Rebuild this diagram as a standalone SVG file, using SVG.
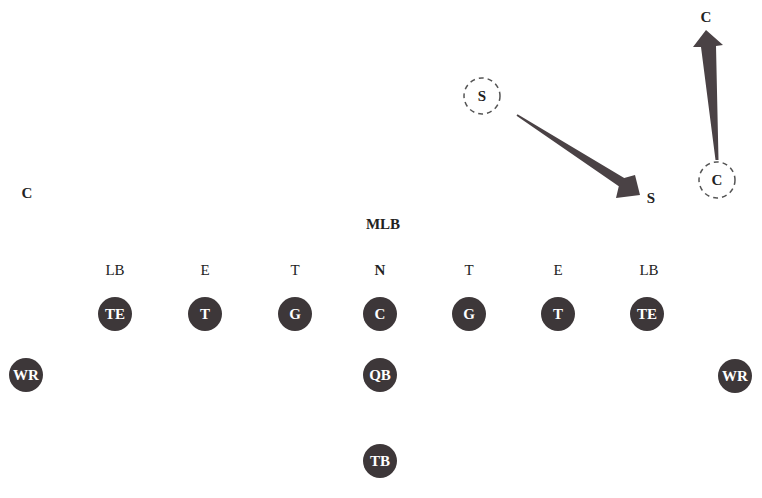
<svg xmlns="http://www.w3.org/2000/svg" width="762" height="498" viewBox="0 0 762 498">
<style>
.p{fill:#3d3739}
.pt{font-family:"Liberation Serif",serif;font-weight:bold;font-size:15px;fill:#fff;text-anchor:middle}
.lb{font-family:"Liberation Serif",serif;font-weight:bold;font-size:15px;fill:#222;text-anchor:middle}
.lbn{font-family:"Liberation Serif",serif;font-size:15px;fill:#222;text-anchor:middle}
.d{fill:none;stroke:#555;stroke-width:1.5;stroke-dasharray:5,4}
.ar{fill:#4a4245}
</style>
<rect width="762" height="498" fill="#fff"/>
<g id="connectors">
<polygon class="ar" points="517.5,114.2 624.2,177.9 635,175 640,195 616,198 618.8,186.3 516.5,115.8"/>
<polygon class="ar" points="715.5,160 718.5,160 716,46 723,45 706,30 693,47 701,47"/>
</g>
<g id="off_TE_L"><circle class="p" cx="115" cy="314" r="17"/><text class="pt" x="115" y="319">TE</text></g>
<g id="off_T_L"><circle class="p" cx="205" cy="314" r="17"/><text class="pt" x="205" y="319">T</text></g>
<g id="off_G_L"><circle class="p" cx="295" cy="314" r="17"/><text class="pt" x="295" y="319">G</text></g>
<g id="off_C"><circle class="p" cx="380" cy="314" r="17"/><text class="pt" x="380" y="319">C</text></g>
<g id="off_G_R"><circle class="p" cx="469" cy="314" r="17"/><text class="pt" x="469" y="319">G</text></g>
<g id="off_T_R"><circle class="p" cx="558" cy="314" r="17"/><text class="pt" x="558" y="319">T</text></g>
<g id="off_TE_R"><circle class="p" cx="647" cy="314" r="17"/><text class="pt" x="647" y="319">TE</text></g>
<g id="off_WR_L"><circle class="p" cx="26" cy="375" r="17"/><text class="pt" x="26" y="380">WR</text></g>
<g id="off_QB"><circle class="p" cx="380" cy="375" r="17"/><text class="pt" x="380" y="380">QB</text></g>
<g id="off_TB"><circle class="p" cx="380" cy="461" r="17"/><text class="pt" x="380" y="466">TB</text></g>
<g id="off_WR_R"><circle class="p" cx="735" cy="376" r="17"/><text class="pt" x="735" y="381">WR</text></g>
<g id="def_LB_L"><text class="lbn" x="115" y="275">LB</text></g>
<g id="def_E_L"><text class="lbn" x="205" y="275">E</text></g>
<g id="def_T_L"><text class="lbn" x="295" y="275">T</text></g>
<g id="def_N"><text class="lb" x="380" y="275">N</text></g>
<g id="def_T_R"><text class="lbn" x="469" y="275">T</text></g>
<g id="def_E_R"><text class="lbn" x="558" y="275">E</text></g>
<g id="def_LB_R"><text class="lbn" x="649" y="275">LB</text></g>
<g id="def_MLB"><text class="lb" x="383" y="229">MLB</text></g>
<g id="def_C_L"><text class="lb" x="27" y="198">C</text></g>
<g id="def_S_start"><circle class="d" cx="482" cy="96" r="18"/><text class="lb" x="482" y="101">S</text></g>
<g id="def_S_end"><text class="lb" x="651" y="203">S</text></g>
<g id="def_C_start"><circle class="d" cx="717" cy="180" r="18"/><text class="lb" x="717" y="185">C</text></g>
<g id="def_C_end"><text class="lb" x="706" y="22">C</text></g>
</svg>
